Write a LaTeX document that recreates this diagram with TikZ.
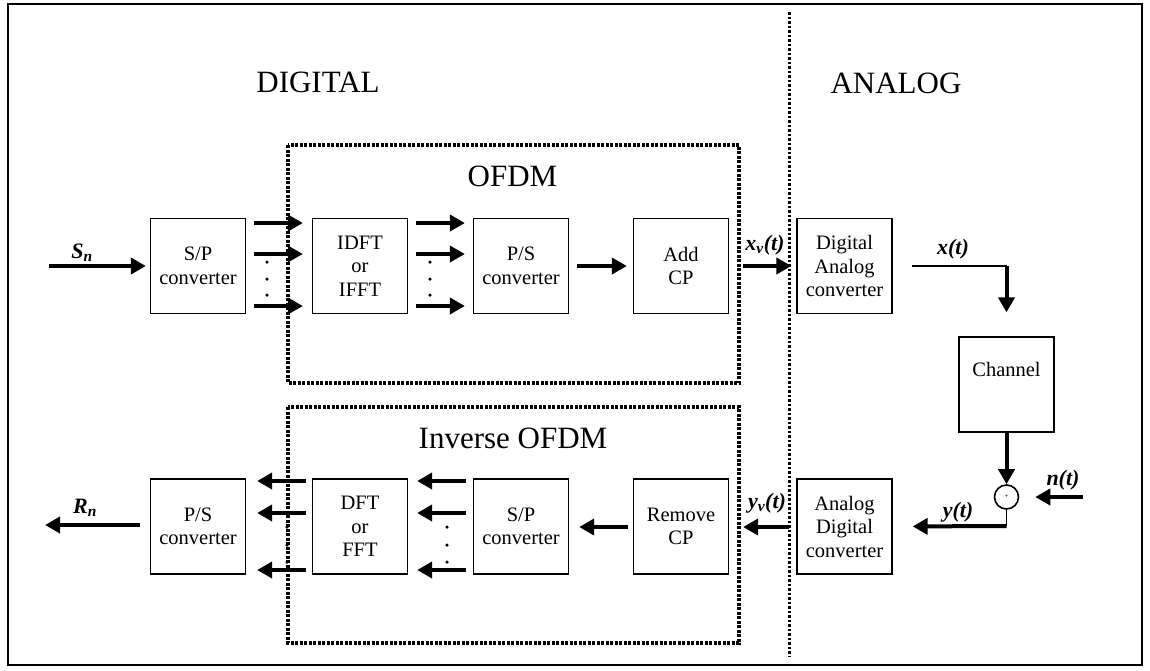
\documentclass[tikz,border=0pt]{standalone}
\usepackage{fontspec}
\setmainfont{Liberation Serif}
\usetikzlibrary{arrows.meta}
\begin{document}
\begin{tikzpicture}[x=1pt,y=-1pt,
  blk/.style={draw, line width=1.3pt, minimum width=95pt, minimum height=95pt, inner sep=0pt, align=center, font=\fontsize{20.5}{23.5}\selectfont},
  arr/.style={line width=4pt, -{Triangle[length=15pt,width=16pt]}},
  thinln/.style={line width=1.8pt},
  lab/.style={font=\fontsize{22}{24}\selectfont\bfseries\itshape, inner sep=0pt},
  ttl/.style={font=\fontsize{31}{34}\selectfont, inner sep=0pt},
  dotbox/.style={line width=3.2pt, dash pattern=on 3pt off 1.5pt},
  sep/.style={line width=3pt, dash pattern=on 2.5pt off 2pt},
  dotc/.style={circle, fill, inner sep=0pt, minimum size=3.5pt}
]
% canvas and frame
\fill[white] (0,0) rectangle (1150,670);
\draw[line width=1.5pt] (8,4) rectangle (1142,665);
% separator
\coordinate (septop) at (789,12);
\coordinate (sepbot) at (789,657);
\draw[sep] (septop) -- (sepbot);
% titles
\node[ttl] (tdig) at (318,82) {DIGITAL};
\node[ttl] (tana) at (896,83) {ANALOG};
% dotted boxes
\draw[dotbox] (288,145) rectangle (739,383);
\draw[dotbox] (288,407) rectangle (739,643);
\node[ttl] (tofdm) at (512.5,176) {OFDM};
\node[ttl] (tinv) at (513,438) {Inverse OFDM};
% top row
\node[blk] (sp)   at (198,266)   {S/P\\converter};
\node[blk] (idft) at (360,266)   {IDFT\\or\\IFFT};
\node[blk] (ps)   at (521,266)   {P/S\\converter};
\node[blk] (add)  at (681,266)   {Add\\CP};
\node[blk] (dac)  at (844.5,266) {Digital\\Analog\\converter};
% bottom row
\node[blk] (ps2)  at (198,526.5)   {P/S\\converter};
\node[blk] (dft)  at (360,526.5)   {DFT\\or\\FFT};
\node[blk] (sp2)  at (521,526.5)   {S/P\\converter};
\node[blk] (rcp)  at (681,526.5)   {Remove\\CP};
\node[blk] (adc)  at (844.5,526.5) {Analog\\Digital\\converter};
% channel and sum
\node[blk] (chan) at (1006.5,384.5) {Channel\\[6pt]};
\node[circle, draw, line width=1.6pt, minimum size=24pt, inner sep=0pt] (sum) at (1006.5,497) {\fontsize{7}{7}\selectfont +};
% input
\coordinate (sin) at (49,266);
\draw[arr, shorten >=4pt] (sin) -- (sp.west);
\node[lab] (lsn) at (82,253) {S\textsubscript{n}};
% top row arrows
\foreach \yy in {223,254,306} {
  \draw[arr, shorten <=8pt, shorten >=9pt] (sp.east |- 0,\yy) -- (idft.west |- 0,\yy);
  \draw[arr, shorten <=8pt, shorten >=8pt] (idft.east |- 0,\yy) -- (ps.west |- 0,\yy);
}
\foreach \yy in {262,279,295} {
  \node[dotc] at (267,\yy) {};
  \node[dotc] at (430,\yy) {};
}
\draw[arr, shorten <=8pt, shorten >=6pt] (ps.east) -- (add.west);
\draw[arr, shorten <=14pt, shorten >=5pt] (add.east) -- (dac.west);
\node[lab] (lxv) at (765,245) {x\textsubscript{v}(t)};
% to channel
\coordinate (xs) at (912,266);
\coordinate (xc) at (1006.5,266);
\draw[thinln] (xs) -- (xc);
\draw[arr, shorten >=24pt] (xc) -- (chan.north);
\node[lab] (lx) at (953,249) {x(t)};
\draw[arr] (chan.south) -- (sum.north);
\coordinate (nin) at (1083,497);
\draw[arr, shorten >=16pt] (nin) -- (sum.east);
\node[lab] (ln) at (1063,480) {n(t)};
\coordinate (yc) at (1006.5,526);
\draw[thinln] (sum.south) -- (yc);
\draw[arr, shorten >=20pt] (yc) -- (adc.east);
\node[lab] (ly) at (958,512) {y(t)};
% bottom row arrows
\draw[arr, shorten <=7pt, shorten >=14pt] (adc.west |- 0,527) -- (rcp.east |- 0,527);
\node[lab] (lyv) at (767,503) {y\textsubscript{v}(t)};
\draw[arr, shorten <=5pt, shorten >=10pt] (rcp.west |- 0,527) -- (sp2.east |- 0,527);
\foreach \yy in {481,513,570} {
  \draw[arr, shorten <=7pt, shorten >=9pt] (sp2.west |- 0,\yy) -- (dft.east |- 0,\yy);
  \draw[arr, shorten <=6pt, shorten >=11pt] (dft.west |- 0,\yy) -- (ps2.east |- 0,\yy);
}
\foreach \yy in {527,545,562} {
  \node[dotc] at (287,\yy) {};
  \node[dotc] at (447,\yy) {};
}
\coordinate (rout) at (45,525);
\draw[arr, shorten <=10pt] (ps2.west |- rout) -- (rout);
\node[lab] (lrn) at (85,508) {R\textsubscript{n}};
\end{tikzpicture}
\end{document}
